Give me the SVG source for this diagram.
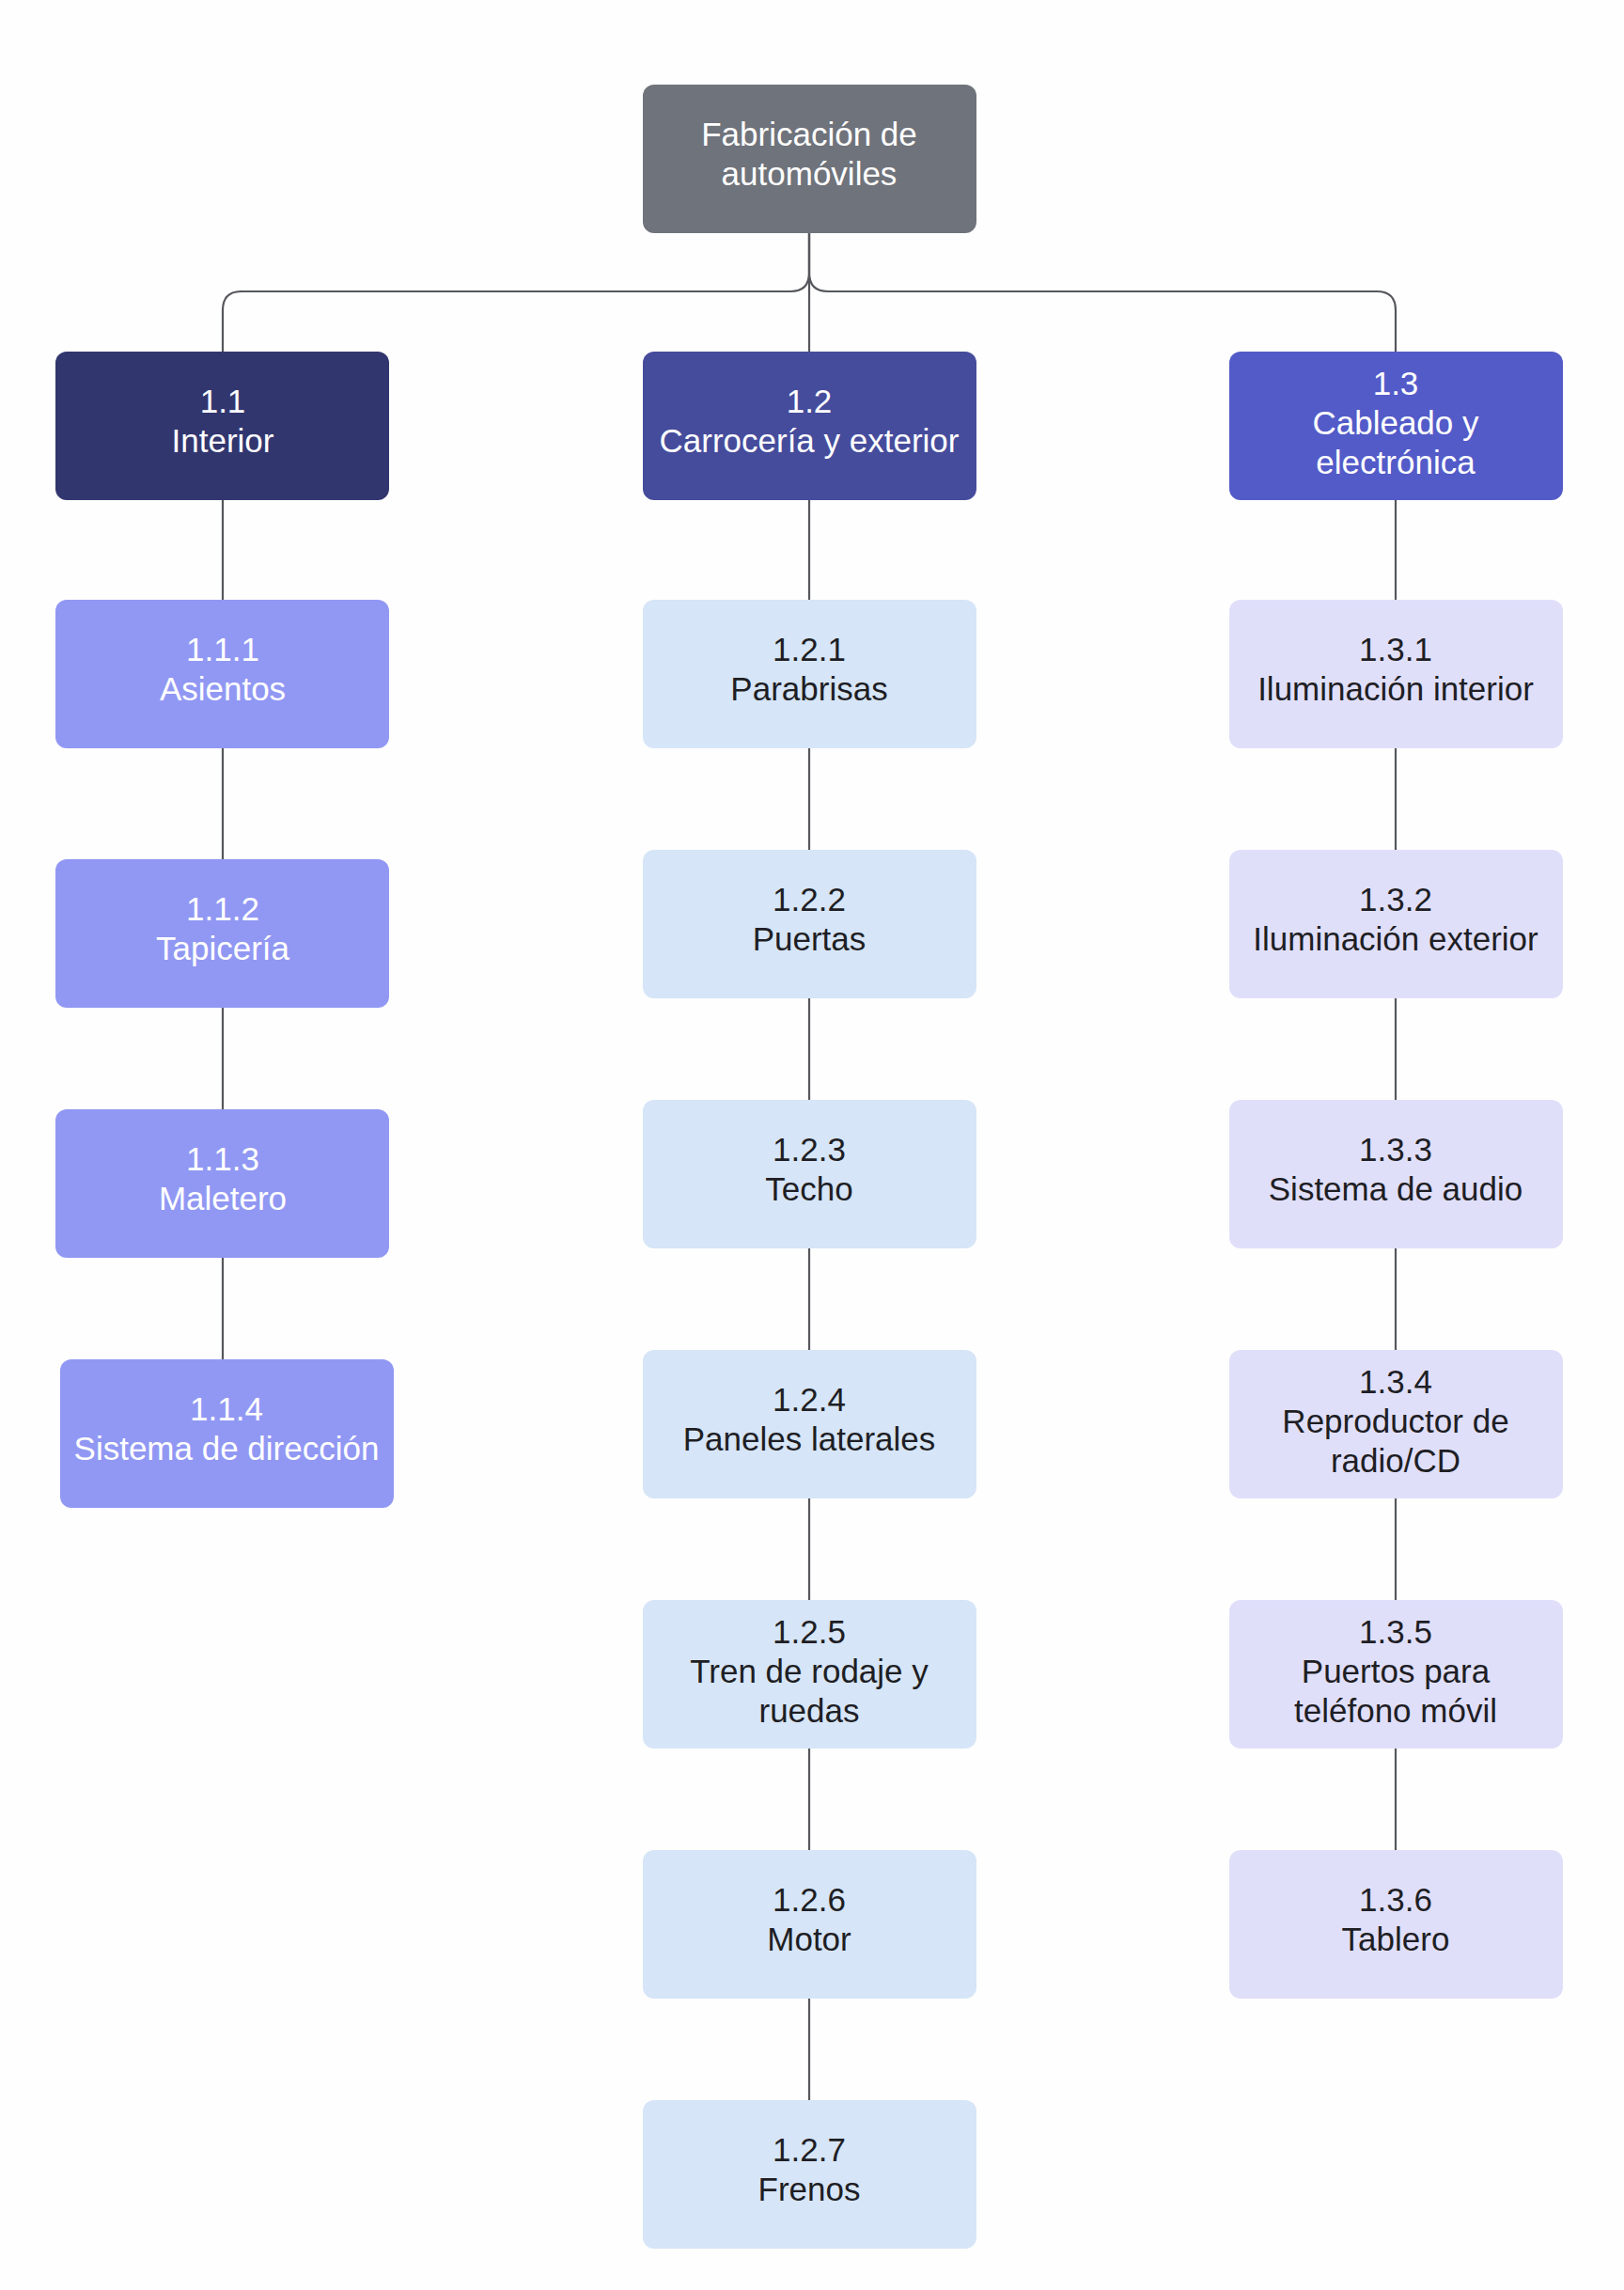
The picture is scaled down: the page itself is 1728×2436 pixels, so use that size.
<svg xmlns="http://www.w3.org/2000/svg" width="1728" height="2436" viewBox="0 0 1728 2436">
<style>
text{font-family:"Liberation Sans",Arial,sans-serif;font-size:35px;text-anchor:middle}
.w{fill:#fff}.d{fill:#1e1e24}
.c{stroke:#55575c;stroke-width:2.2;fill:none}
</style>
<rect width="1728" height="2436" fill="#fefefe"/>
<g id="connectors">
<path class="c" d="M861 248V290Q861 310 841 310H257Q237 310 237 330V374"/>
<path class="c" d="M861 248V290Q861 310 881 310H1465Q1485 310 1485 330V374"/>
<path class="c" d="M861 248V374"/>
<path class="c" d="M237 532V1447"/>
<path class="c" d="M861 532V2236"/>
<path class="c" d="M1485 532V1970"/>
</g>
<g id="root"><rect x="684" y="90" width="355" height="158" rx="12" fill="#6f737b"/><text class="w" x="861" y="155">Fabricación de</text><text class="w" x="861" y="197">automóviles</text></g>
<g id="n11"><rect x="59" y="374" width="355" height="158" rx="12" fill="#32366f"/><text class="w" x="237" y="439">1.1</text><text class="w" x="237" y="481">Interior</text></g>
<g id="n12"><rect x="684" y="374" width="355" height="158" rx="12" fill="#464c9c"/><text class="w" x="861" y="439">1.2</text><text class="w" x="861" y="481">Carrocería y exterior</text></g>
<g id="n13"><rect x="1308" y="374" width="355" height="158" rx="12" fill="#535bc8"/><text class="w" x="1485" y="420">1.3</text><text class="w" x="1485" y="462">Cableado y</text><text class="w" x="1485" y="504">electrónica</text></g>
<g id="n111"><rect x="59" y="638" width="355" height="158" rx="12" fill="#9198f3"/><text class="w" x="237" y="703">1.1.1</text><text class="w" x="237" y="745">Asientos</text></g>
<g id="n112"><rect x="59" y="914" width="355" height="158" rx="12" fill="#9198f3"/><text class="w" x="237" y="979">1.1.2</text><text class="w" x="237" y="1021">Tapicería</text></g>
<g id="n113"><rect x="59" y="1180" width="355" height="158" rx="12" fill="#9198f3"/><text class="w" x="237" y="1245">1.1.3</text><text class="w" x="237" y="1287">Maletero</text></g>
<g id="n114"><rect x="64" y="1446" width="355" height="158" rx="12" fill="#9198f3"/><text class="w" x="241" y="1511">1.1.4</text><text class="w" x="241" y="1553">Sistema de dirección</text></g>
<g id="n121"><rect x="684" y="638" width="355" height="158" rx="12" fill="#d6e5f7"/><text class="d" x="861" y="703">1.2.1</text><text class="d" x="861" y="745">Parabrisas</text></g>
<g id="n122"><rect x="684" y="904" width="355" height="158" rx="12" fill="#d6e5f7"/><text class="d" x="861" y="969">1.2.2</text><text class="d" x="861" y="1011">Puertas</text></g>
<g id="n123"><rect x="684" y="1170" width="355" height="158" rx="12" fill="#d6e5f7"/><text class="d" x="861" y="1235">1.2.3</text><text class="d" x="861" y="1277">Techo</text></g>
<g id="n124"><rect x="684" y="1436" width="355" height="158" rx="12" fill="#d6e5f7"/><text class="d" x="861" y="1501">1.2.4</text><text class="d" x="861" y="1543">Paneles laterales</text></g>
<g id="n125"><rect x="684" y="1702" width="355" height="158" rx="12" fill="#d6e5f7"/><text class="d" x="861" y="1748">1.2.5</text><text class="d" x="861" y="1790">Tren de rodaje y</text><text class="d" x="861" y="1832">ruedas</text></g>
<g id="n126"><rect x="684" y="1968" width="355" height="158" rx="12" fill="#d6e5f7"/><text class="d" x="861" y="2033">1.2.6</text><text class="d" x="861" y="2075">Motor</text></g>
<g id="n127"><rect x="684" y="2234" width="355" height="158" rx="12" fill="#d6e5f7"/><text class="d" x="861" y="2299">1.2.7</text><text class="d" x="861" y="2341">Frenos</text></g>
<g id="n131"><rect x="1308" y="638" width="355" height="158" rx="12" fill="#e0dffa"/><text class="d" x="1485" y="703">1.3.1</text><text class="d" x="1485" y="745">Iluminación interior</text></g>
<g id="n132"><rect x="1308" y="904" width="355" height="158" rx="12" fill="#e0dffa"/><text class="d" x="1485" y="969">1.3.2</text><text class="d" x="1485" y="1011">Iluminación exterior</text></g>
<g id="n133"><rect x="1308" y="1170" width="355" height="158" rx="12" fill="#e0dffa"/><text class="d" x="1485" y="1235">1.3.3</text><text class="d" x="1485" y="1277">Sistema de audio</text></g>
<g id="n134"><rect x="1308" y="1436" width="355" height="158" rx="12" fill="#e0dffa"/><text class="d" x="1485" y="1482">1.3.4</text><text class="d" x="1485" y="1524">Reproductor de</text><text class="d" x="1485" y="1566">radio/CD</text></g>
<g id="n135"><rect x="1308" y="1702" width="355" height="158" rx="12" fill="#e0dffa"/><text class="d" x="1485" y="1748">1.3.5</text><text class="d" x="1485" y="1790">Puertos para</text><text class="d" x="1485" y="1832">teléfono móvil</text></g>
<g id="n136"><rect x="1308" y="1968" width="355" height="158" rx="12" fill="#e0dffa"/><text class="d" x="1485" y="2033">1.3.6</text><text class="d" x="1485" y="2075">Tablero</text></g>
</svg>
